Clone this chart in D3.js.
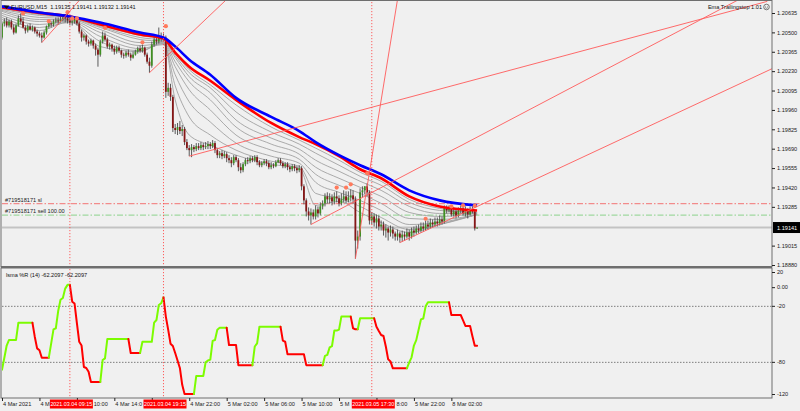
<!DOCTYPE html>
<html><head><meta charset="utf-8">
<script src="https://cdn.jsdelivr.net/npm/d3@7"></script>
<style>
body{margin:0;background:#f0f0f0;}
svg{display:block;}
text{font-family:"Liberation Sans",Arial,sans-serif;font-size:5.6px;}
</style>
</head><body><svg id="c" width="800" height="411"></svg>
<script>
// ---------------- DATA ----------------
const symbolTitle = "EURUSD,M15  1.19135 1.19141 1.19132 1.19141";
const indicatorTitle = "lsma %R (14) -62.2097 -62.2097";
const expertTitle = "Ema Trailingstop 1.01";

const timeTickBars = [0,16,32,48,64,80,96,112,128,144,160,176,192];
const timeTickLabels = ["4 Mar 2021","4 Mar 06:00","4 Mar 10:00","4 Mar 14:00","4 Mar 18:00","4 Mar 22:00","5 Mar 02:00","5 Mar 06:00","5 Mar 10:00","5 Mar 14:00","5 Mar 18:00","5 Mar 22:00","8 Mar 02:00"];
const markerBars = [29, 69, 158];
const markerLabels = ["2021.03.04 09:15","2021.03.04 19:15","2021.03.05 17:30"];

const priceTicks = [1.20635,1.20500,1.20365,1.20230,1.20095,1.19960,1.19825,1.19690,1.19555,1.19420,1.19285,1.19015,1.18880];
const wprTicks = [20,0,-20,-80,-120];
const wprLevels = [-20,-80];
const bidPrice = 1.19141;
const slPrice = 1.19308;
const sellPrice = 1.19228;

const openP = [1.20464,1.20562,1.20576,1.20548,1.20576,1.20534,1.20499,1.20548,1.20597,1.20576,
1.20534,1.20513,1.20541,1.20520,1.20534,1.20506,1.20492,1.20478,1.20464,1.20499,
1.20541,1.20562,1.20555,1.20576,1.20583,1.20576,1.20590,1.20604,1.20597,1.20583,
1.20569,1.20576,1.20590,1.20562,1.20506,1.20464,1.20478,1.20436,1.20422,1.20443,
1.20408,1.20380,1.20345,1.20436,1.20478,1.20450,1.20401,1.20415,1.20387,1.20366,
1.20394,1.20373,1.20345,1.20338,1.20359,1.20345,1.20324,1.20345,1.20366,1.20387,
1.20373,1.20394,1.20345,1.20296,1.20268,1.20415,1.20450,1.20436,1.20471,1.20457,
1.20464,1.20086,1.20114,1.20051,1.19834,1.19820,1.19841,1.19813,1.19827,1.19736,
1.19694,1.19680,1.19701,1.19687,1.19708,1.19694,1.19715,1.19701,1.19708,1.19722,
1.19708,1.19729,1.19680,1.19645,1.19659,1.19638,1.19652,1.19624,1.19610,1.19589,
1.19631,1.19610,1.19561,1.19540,1.19582,1.19610,1.19603,1.19624,1.19610,1.19631,
1.19596,1.19575,1.19589,1.19603,1.19589,1.19561,1.19575,1.19568,1.19596,1.19610,
1.19589,1.19568,1.19582,1.19561,1.19547,1.19568,1.19554,1.19540,1.19554,1.19428,
1.19330,1.19253,1.19225,1.19246,1.19218,1.19267,1.19239,1.19288,1.19309,1.19358,
1.19337,1.19351,1.19323,1.19358,1.19344,1.19309,1.19337,1.19358,1.19330,1.19351,
1.19365,1.19337,1.19050,1.19078,1.19386,1.19400,1.19428,1.19386,1.19190,1.19218,
1.19176,1.19204,1.19148,1.19162,1.19120,1.19134,1.19106,1.19127,1.19099,1.19078,
1.19099,1.19071,1.19092,1.19078,1.19106,1.19078,1.19120,1.19106,1.19134,1.19120,
1.19148,1.19134,1.19162,1.19148,1.19176,1.19162,1.19183,1.19169,1.19197,1.19183,
1.19281,1.19260,1.19274,1.19232,1.19253,1.19225,1.19260,1.19274,1.19239,1.19260,
1.19232,1.19267,1.19253,1.19135];
const highP = [1.20576,1.20597,1.20604,1.20590,1.20590,1.20555,1.20562,1.20618,1.20632,1.20604,
1.20548,1.20555,1.20562,1.20548,1.20541,1.20520,1.20506,1.20499,1.20513,1.20548,
1.20583,1.20576,1.20590,1.20604,1.20604,1.20611,1.20618,1.20625,1.20632,1.20604,
1.20590,1.20597,1.20597,1.20576,1.20520,1.20492,1.20485,1.20450,1.20457,1.20450,
1.20422,1.20394,1.20450,1.20506,1.20499,1.20464,1.20429,1.20422,1.20408,1.20408,
1.20408,1.20380,1.20359,1.20373,1.20380,1.20359,1.20366,1.20380,1.20401,1.20408,
1.20415,1.20401,1.20359,1.20324,1.20436,1.20471,1.20478,1.20534,1.20499,1.20492,
1.20478,1.20149,1.20142,1.20065,1.19862,1.19869,1.19883,1.19855,1.19841,1.19757,
1.19715,1.19722,1.19715,1.19729,1.19729,1.19736,1.19729,1.19736,1.19743,1.19736,
1.19750,1.19743,1.19694,1.19673,1.19680,1.19673,1.19666,1.19645,1.19631,1.19645,
1.19645,1.19624,1.19589,1.19596,1.19624,1.19631,1.19638,1.19638,1.19645,1.19645,
1.19610,1.19603,1.19617,1.19617,1.19603,1.19596,1.19589,1.19610,1.19624,1.19624,
1.19603,1.19596,1.19596,1.19575,1.19582,1.19582,1.19568,1.19575,1.19568,1.19442,
1.19344,1.19281,1.19274,1.19267,1.19295,1.19288,1.19316,1.19330,1.19379,1.19386,
1.19379,1.19372,1.19386,1.19393,1.19365,1.19379,1.19400,1.19393,1.19393,1.19407,
1.19400,1.19358,1.19120,1.19414,1.19428,1.19428,1.19449,1.19400,1.19246,1.19239,
1.19232,1.19225,1.19190,1.19183,1.19162,1.19148,1.19155,1.19148,1.19113,1.19127,
1.19113,1.19120,1.19113,1.19134,1.19127,1.19141,1.19148,1.19155,1.19162,1.19176,
1.19176,1.19190,1.19190,1.19204,1.19197,1.19211,1.19211,1.19225,1.19218,1.19295,
1.19295,1.19295,1.19288,1.19281,1.19274,1.19281,1.19295,1.19288,1.19288,1.19274,
1.19288,1.19288,1.19267,1.19141];
const lowP = [1.20450,1.20541,1.20534,1.20534,1.20520,1.20485,1.20492,1.20541,1.20555,1.20527,
1.20492,1.20499,1.20513,1.20506,1.20492,1.20471,1.20464,1.20429,1.20457,1.20485,
1.20527,1.20534,1.20541,1.20562,1.20555,1.20569,1.20576,1.20569,1.20562,1.20548,
1.20548,1.20562,1.20548,1.20492,1.20436,1.20443,1.20415,1.20401,1.20408,1.20387,
1.20338,1.20261,1.20331,1.20422,1.20436,1.20387,1.20380,1.20366,1.20345,1.20352,
1.20359,1.20324,1.20317,1.20324,1.20331,1.20303,1.20317,1.20338,1.20352,1.20359,
1.20359,1.20331,1.20282,1.20219,1.20254,1.20401,1.20415,1.20422,1.20436,1.20443,
1.20044,1.20058,1.20023,1.19806,1.19792,1.19785,1.19792,1.19778,1.19715,1.19680,
1.19638,1.19631,1.19666,1.19673,1.19680,1.19680,1.19680,1.19687,1.19687,1.19687,
1.19694,1.19659,1.19624,1.19624,1.19617,1.19624,1.19596,1.19589,1.19561,1.19575,
1.19596,1.19533,1.19519,1.19526,1.19568,1.19582,1.19589,1.19596,1.19596,1.19575,
1.19561,1.19561,1.19575,1.19568,1.19547,1.19547,1.19554,1.19561,1.19589,1.19575,
1.19554,1.19554,1.19540,1.19526,1.19533,1.19533,1.19519,1.19526,1.19400,1.19302,
1.19218,1.19190,1.19162,1.19197,1.19197,1.19211,1.19225,1.19267,1.19288,1.19309,
1.19309,1.19295,1.19302,1.19316,1.19288,1.19295,1.19316,1.19309,1.19316,1.19323,
1.19309,1.18924,1.18994,1.19050,1.19351,1.19372,1.19358,1.19162,1.19162,1.19148,
1.19134,1.19120,1.19120,1.19085,1.19071,1.19050,1.19078,1.19064,1.19050,1.19050,
1.19036,1.19043,1.19050,1.19064,1.19050,1.19064,1.19078,1.19092,1.19099,1.19106,
1.19113,1.19120,1.19127,1.19134,1.19141,1.19148,1.19148,1.19155,1.19162,1.19169,
1.19239,1.19246,1.19218,1.19218,1.19204,1.19211,1.19239,1.19225,1.19218,1.19204,
1.19225,1.19239,1.19120,1.19132];
const closeP = [1.20562,1.20576,1.20548,1.20576,1.20534,1.20499,1.20548,1.20597,1.20576,1.20534,
1.20513,1.20541,1.20520,1.20534,1.20506,1.20492,1.20478,1.20464,1.20499,1.20541,
1.20562,1.20555,1.20576,1.20583,1.20576,1.20590,1.20604,1.20597,1.20583,1.20569,
1.20576,1.20590,1.20562,1.20506,1.20464,1.20478,1.20436,1.20422,1.20443,1.20408,
1.20380,1.20345,1.20436,1.20478,1.20450,1.20401,1.20415,1.20387,1.20366,1.20394,
1.20373,1.20345,1.20338,1.20359,1.20345,1.20324,1.20345,1.20366,1.20387,1.20373,
1.20394,1.20345,1.20296,1.20268,1.20415,1.20450,1.20436,1.20471,1.20457,1.20464,
1.20086,1.20114,1.20051,1.19834,1.19820,1.19841,1.19813,1.19827,1.19736,1.19694,
1.19680,1.19701,1.19687,1.19708,1.19694,1.19715,1.19701,1.19708,1.19722,1.19708,
1.19729,1.19680,1.19645,1.19659,1.19638,1.19652,1.19624,1.19610,1.19589,1.19631,
1.19610,1.19561,1.19540,1.19582,1.19610,1.19603,1.19624,1.19610,1.19631,1.19596,
1.19575,1.19589,1.19603,1.19589,1.19561,1.19575,1.19568,1.19596,1.19610,1.19589,
1.19568,1.19582,1.19561,1.19547,1.19568,1.19554,1.19540,1.19554,1.19428,1.19330,
1.19253,1.19225,1.19246,1.19218,1.19267,1.19239,1.19288,1.19309,1.19358,1.19337,
1.19351,1.19323,1.19358,1.19344,1.19309,1.19337,1.19358,1.19330,1.19351,1.19365,
1.19337,1.19050,1.19078,1.19386,1.19400,1.19428,1.19386,1.19190,1.19218,1.19176,
1.19204,1.19148,1.19162,1.19120,1.19134,1.19106,1.19127,1.19099,1.19078,1.19099,
1.19071,1.19092,1.19078,1.19106,1.19078,1.19120,1.19106,1.19134,1.19120,1.19148,
1.19134,1.19162,1.19148,1.19176,1.19162,1.19183,1.19169,1.19197,1.19183,1.19281,
1.19260,1.19274,1.19232,1.19253,1.19225,1.19260,1.19274,1.19239,1.19260,1.19232,
1.19267,1.19253,1.19135,1.19141];

// moving averages, read at sample bars
const maBars = [0,16,29,42,59,69,74,80,89,100,115,127,134,144,153,162,174,187,203];
const blueMA = [1.20681,1.20639,1.20611,1.20569,1.20499,1.20464,1.20401,1.20310,1.20205,1.20044,1.19911,1.19813,1.19736,1.19645,1.19575,1.19512,1.19400,1.19330,1.19295];
const redMA  = [1.20674,1.20636,1.20611,1.20555,1.20485,1.20457,1.20359,1.20261,1.20163,1.20030,1.19869,1.19771,1.19722,1.19638,1.19547,1.19484,1.19358,1.19288,1.19260];
const grayMA1 = [1.20590,1.20513,1.20576,1.20401,1.20366,1.20436,1.20030,1.19785,1.19715,1.19645,1.19582,1.19554,1.19295,1.19323,1.19246,1.19176,1.19106,1.19162,1.19232];
const grayMA2 = [1.20604,1.20534,1.20569,1.20436,1.20373,1.20422,1.20128,1.19911,1.19785,1.19680,1.19603,1.19568,1.19379,1.19344,1.19288,1.19211,1.19127,1.19162,1.19232];
const grayMA3 = [1.20618,1.20555,1.20576,1.20471,1.20387,1.20415,1.20205,1.20016,1.19876,1.19729,1.19638,1.19589,1.19456,1.19386,1.19330,1.19260,1.19162,1.19176,1.19232];
const grayMA4 = [1.20632,1.20576,1.20583,1.20499,1.20408,1.20422,1.20261,1.20100,1.19960,1.19785,1.19680,1.19617,1.19512,1.19435,1.19379,1.19309,1.19204,1.19197,1.19232];
const grayMA5 = [1.20646,1.20590,1.20590,1.20520,1.20429,1.20429,1.20296,1.20156,1.20030,1.19841,1.19722,1.19652,1.19561,1.19484,1.19421,1.19358,1.19246,1.19218,1.19239];
const grayMA6 = [1.20653,1.20604,1.20597,1.20534,1.20450,1.20436,1.20324,1.20191,1.20079,1.19890,1.19764,1.19687,1.19610,1.19533,1.19463,1.19400,1.19288,1.19239,1.19239];
const grayMA7 = [1.20660,1.20618,1.20604,1.20541,1.20464,1.20443,1.20338,1.20219,1.20114,1.19946,1.19806,1.19722,1.19659,1.19575,1.19498,1.19435,1.19316,1.19260,1.19246];
const grayMA8 = [1.20667,1.20625,1.20608,1.20548,1.20478,1.20450,1.20352,1.20240,1.20135,1.19995,1.19841,1.19750,1.19694,1.19610,1.19526,1.19463,1.19337,1.19274,1.19246];

// signal dots
const dotBars   = [9,20,28,30,32,44,60,70,143,147,149,156,181,192,197,202];
const dotPrices = [1.20632,1.20578,1.20641,1.20597,1.20597,1.20532,1.20431,1.20543,1.19419,1.19419,1.19442,1.19519,1.19202,1.19288,1.19295,1.19292];

// trend lines [bar1, price1, bar2, price2]
const trendLines = [
  [17,1.20429,33,1.20722],
  [63,1.20219,96,1.20730],
  [80,1.19638,327,1.20716],
  [132,1.19162,315,1.20730],
  [151,1.18924,169,1.20730],
  [170,1.19036,329,1.20247]
];

// lsma %R (14), one value per bar
const wpr = [-88,-75,-62,-56,-56,-56,-56,-37.5,-37.5,-37.5,
-37.5,-37.5,-37.5,-37.5,-52.5,-65,-67,-75,-75,-75,
-75,-60,-44.6,-43.5,-25,-13,-11,-1,3,3,
-15,-17,-38,-58,-62,-85,-86,-90,-101,-101,
-101,-101,-101,-77.5,-75.7,-55,-55,-55,-55,-55,
-55,-55,-55,-55,-55,-70,-70,-70,-70,-70,
-58,-58,-58,-58,-58,-37.5,-34.6,-18.5,-16.7,-10.3,
-31,-45,-60,-62.5,-70,-78,-86,-104,-114,-114,
-114,-114,-114,-94.6,-94.6,-94.6,-94.6,-80,-78,-77,
-57,-56,-45,-43,-43,-43,-43,-61.4,-61.4,-61.4,
-61.4,-83,-83,-83,-83,-83,-83,-83,-63,-59.6,
-41.8,-41.8,-41.8,-41.8,-41.8,-41.8,-41.8,-41.8,-41.8,-41.8,
-56.8,-57.9,-71.4,-71.4,-71.4,-71.4,-71.4,-71.4,-71.4,-71.4,
-83,-83,-83,-83,-83,-83,-83,-83,-73,-72,
-64,-62.5,-46,-46,-45,-31,-31,-31,-31,-31,
-43.5,-44.6,-44.6,-32.8,-32.8,-32.8,-32.8,-32.8,-32.8,-32.8,
-41.8,-46.4,-50.7,-51.8,-63,-76.8,-79,-86.4,-86.4,-86.4,
-86.4,-86.4,-86.4,-86.4,-80,-74.6,-62,-56.2,-45,-34,
-33,-20,-15.7,-15.7,-15.7,-15.7,-15.7,-15.7,-15.7,-15.7,
-15.7,-15.7,-29.3,-29.3,-29.3,-29.3,-29.3,-35,-41,-41,
-41,-52,-62.2,-62.2097];

// ---------------- DRAW ----------------
const svg = d3.select("#c");
const W = 800, H = 411;
const R = 772;
const mainBot = 266.5, indTop = 268, indBot = 398;

const x = d3.scaleLinear().domain([0, 329]).range([2, R]);
const yP = d3.scaleLinear().domain([1.18880, 1.20635]).range([265, 13]);
const yR = d3.scaleLinear().domain([-120, 20]).range([399.7, 269]);

svg.append("rect").attr("width", W).attr("height", H).attr("fill", "#f0f0f0");

const defs = svg.append("defs");
defs.append("clipPath").attr("id","cm").append("rect").attr("x",2).attr("y",1).attr("width",R-2).attr("height",mainBot-1);
defs.append("clipPath").attr("id","ci").append("rect").attr("x",2).attr("y",indTop+0.5).attr("width",R-2).attr("height",indBot-indTop-0.5);

const gMain = svg.append("g").attr("clip-path","url(#cm)");
const gInd = svg.append("g").attr("clip-path","url(#ci)");

// horizontal lines in main pane
gMain.append("line").attr("x1",2).attr("x2",R).attr("y1",yP(bidPrice)).attr("y2",yP(bidPrice))
  .attr("stroke","#c3c3c3").attr("stroke-width",2);
gMain.append("line").attr("x1",2).attr("x2",R).attr("y1",yP(slPrice)).attr("y2",yP(slPrice))
  .attr("stroke","#f28b8b").attr("stroke-width",1.2).attr("stroke-dasharray","6,2,1.5,2");
gMain.append("line").attr("x1",2).attr("x2",R).attr("y1",yP(sellPrice)).attr("y2",yP(sellPrice))
  .attr("stroke","#9fd89f").attr("stroke-width",1.2).attr("stroke-dasharray","6,2,1.5,2");

// moving averages
const maLine = d3.line().x((d,i)=>x(maBars[i])).y(d=>yP(d)).curve(d3.curveMonotoneX);
[grayMA8,grayMA7,grayMA6,grayMA5,grayMA4,grayMA3,grayMA2,grayMA1].forEach(s=>{
  gMain.append("path").attr("d", maLine(s)).attr("fill","none").attr("stroke","#a2a2a2").attr("stroke-width",0.9);
});

// candles
const bars = d3.range(closeP.length);
const cg = gMain.append("g");
cg.selectAll("line.w").data(bars).join("line").attr("class","w")
  .attr("x1",i=>x(i)).attr("x2",i=>x(i)).attr("y1",i=>yP(highP[i])).attr("y2",i=>yP(lowP[i]))
  .attr("stroke","#4a4a4a").attr("stroke-width",0.9);
cg.selectAll("rect.b").data(bars).join("rect").attr("class","b")
  .attr("x",i=>x(i)-0.9).attr("width",1.8)
  .attr("y",i=>Math.min(yP(openP[i]),yP(closeP[i])))
  .attr("height",i=>Math.max(0.8,Math.abs(yP(openP[i])-yP(closeP[i]))))
  .attr("fill",i=>closeP[i]>=openP[i]?"#3f8f22":"#861616");

gMain.append("path").attr("d", maLine(redMA)).attr("fill","none").attr("stroke","#ff0000").attr("stroke-width",2.6);
gMain.append("path").attr("d", maLine(blueMA)).attr("fill","none").attr("stroke","#0000ff").attr("stroke-width",2.6);

// dots
gMain.selectAll("circle.s").data(dotBars).join("circle").attr("class","s")
  .attr("cx",(d)=>x(d)).attr("cy",(d,i)=>yP(dotPrices[i])).attr("r",2.1).attr("fill","#ff7a5c");

// trend lines
trendLines.forEach(t=>{
  gMain.append("line").attr("x1",x(t[0])).attr("y1",yP(t[1])).attr("x2",x(t[2])).attr("y2",yP(t[3]))
    .attr("stroke","#ff5a5a").attr("stroke-width",0.9);
});

// order labels
svg.append("text").attr("x",5).attr("y",yP(slPrice)-2).attr("fill","#222").text("#719518171 sl");
svg.append("text").attr("x",5).attr("y",yP(sellPrice)-2).attr("fill","#222").text("#719518171 sell 100.00");

// indicator levels
wprLevels.forEach(v=>{
  gInd.append("line").attr("x1",2).attr("x2",R).attr("y1",yR(v)).attr("y2",yR(v))
    .attr("stroke","#707070").attr("stroke-width",0.9).attr("stroke-dasharray","1.5,1.5");
});
// %R line colored by direction
let col = "#7cfc00";
const segs = [];
for (let i=0;i<wpr.length-1;i++){
  if (wpr[i+1]>wpr[i]) col="#7cfc00"; else if (wpr[i+1]<wpr[i]) col="#ff0000";
  if (segs.length && segs[segs.length-1].c===col) segs[segs.length-1].pts.push(i+1);
  else segs.push({c:col, pts:[i,i+1]});
}
const wLine = d3.line().x(i=>x(i)).y(i=>yR(wpr[i]));
segs.forEach(s=>{
  gInd.append("path").attr("d",wLine(s.pts)).attr("fill","none").attr("stroke",s.c)
    .attr("stroke-width",2).attr("stroke-linejoin","round").attr("stroke-linecap","round");
});

// vertical dotted marker lines
markerBars.forEach(b=>{
  svg.append("line").attr("x1",x(b)).attr("x2",x(b)).attr("y1",2).attr("y2",indBot)
    .attr("stroke","#ff4d4d").attr("stroke-width",0.9).attr("stroke-dasharray","1.2,1.8");
});

// pane borders
svg.append("rect").attr("x",1).attr("y",0.5).attr("width",R-1).attr("height",mainBot-0.5)
  .attr("fill","none").attr("stroke","#6e6e6e").attr("stroke-width",1);
svg.append("rect").attr("x",1).attr("y",mainBot).attr("width",R-1).attr("height",indTop-mainBot).attr("fill","#6e6e6e");
svg.append("rect").attr("x",1).attr("y",indTop).attr("width",R-1).attr("height",indBot-indTop)
  .attr("fill","none").attr("stroke","#6e6e6e").attr("stroke-width",1);

// titles
svg.append("path").attr("d","M3.5,5.5 L9.5,5.5 L6.5,9 Z").attr("fill","#111");
svg.append("text").attr("x",11).attr("y",9).attr("fill","#111").attr("xml:space","preserve").text(symbolTitle);
svg.append("text").attr("x",762).attr("y",9).attr("text-anchor","end").attr("fill","#111").text(expertTitle);
const sm = svg.append("g").attr("transform","translate(766.5,7)");
sm.append("circle").attr("r",2.8).attr("fill","none").attr("stroke","#444").attr("stroke-width",0.7);
sm.append("path").attr("d","M-1.4,0.6 Q0,2 1.4,0.6").attr("fill","none").attr("stroke","#444").attr("stroke-width",0.6);
sm.append("circle").attr("cx",-0.9).attr("cy",-0.8).attr("r",0.4).attr("fill","#444");
sm.append("circle").attr("cx",0.9).attr("cy",-0.8).attr("r",0.4).attr("fill","#444");
svg.append("text").attr("x",6).attr("y",277).attr("fill","#111").text(indicatorTitle);

// price axis
const pAxis = d3.axisRight(yP).tickValues(priceTicks).tickFormat(d3.format(".5f")).tickSize(3).tickPadding(2);
svg.append("g").attr("transform",`translate(${R},0)`).attr("color","#222").call(pAxis)
  .call(g=>g.select(".domain").remove());

// bid label
svg.append("rect").attr("x",R+1).attr("y",yP(bidPrice)-5.5).attr("width",27).attr("height",11).attr("fill","#000");
svg.append("text").attr("x",R+5).attr("y",yP(bidPrice)+2).attr("fill","#fff").text(d3.format(".5f")(bidPrice));

// %R axis
const rAxis = d3.axisRight(yR).tickValues(wprTicks).tickFormat(d=>d===0?"0.00":String(d)).tickSize(3).tickPadding(2);
svg.append("g").attr("transform",`translate(${R},0)`).attr("color","#222").call(rAxis)
  .call(g=>g.select(".domain").remove())
  .call(g=>g.selectAll(".tick").attr("transform",d=>`translate(0,${Math.min(Math.max(yR(d),272.5),394.5)})`));

// time axis
const tAxis = d3.axisBottom(x).tickValues(timeTickBars).tickFormat((d,i)=>timeTickLabels[i]).tickSize(3).tickPadding(1);
const tg = svg.append("g").attr("transform",`translate(0,${indBot})`).attr("color","#222").call(tAxis)
  .call(g=>g.select(".domain").remove())
  .call(g=>g.selectAll("text").attr("text-anchor","start").attr("x",0.5));

// red time markers hide what lies under them: keep only the visible part of each time label
const boxW = 43, boxOff = 20;
const boxes = markerBars.map(b=>[x(b)-boxOff, x(b)-boxOff+boxW]);
tg.selectAll(".tick text").each(function(d,i){
  const t = this, full = timeTickLabels[i], tx = x(d)+0.5;
  const len = t.getComputedTextLength();
  for (const [b0,b1] of boxes){
    if (tx+len <= b0 || tx >= b1) continue;
    if (tx < b0){
      let k = full.length;
      while (k>0 && tx + t.getSubStringLength(0,k) > b0-0.3) k--;
      t.textContent = full.slice(0,k);
    } else if (tx+len > b1){
      let k = 0;
      while (k<full.length && tx + t.getSubStringLength(0,k) < b1+0.3) k++;
      const off = t.getSubStringLength(0,k);
      t.textContent = full.slice(k);
      d3.select(t).attr("x", 0.5+off);
    } else {
      t.textContent = "";
    }
    break;
  }
});

markerBars.forEach((b,i)=>{
  svg.append("rect").attr("x",x(b)-boxOff).attr("y",399.5).attr("width",boxW).attr("height",9).attr("fill","#ff0000");
  svg.append("text").attr("x",x(b)-boxOff+boxW/2).attr("y",406.3).attr("text-anchor","middle").attr("fill","#fff")
    .style("font-size","5.4px").text(markerLabels[i]);
});
</script></body></html>
